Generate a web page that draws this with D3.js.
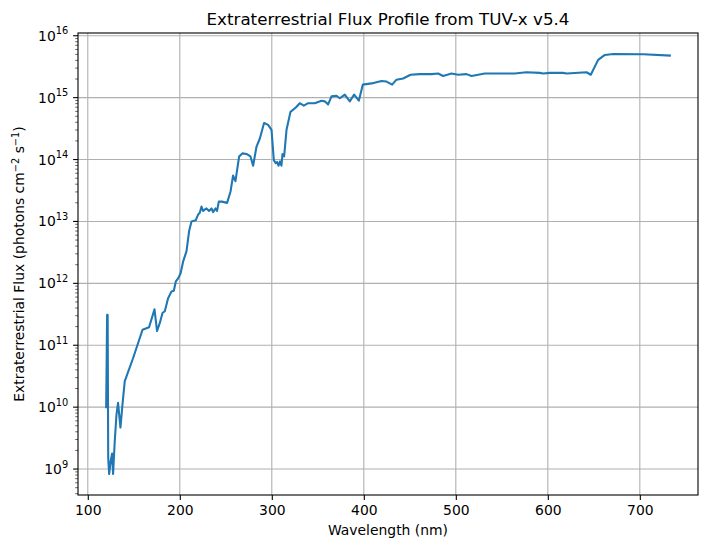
<!DOCTYPE html>
<html><head><meta charset="utf-8">
<script src="https://cdn.jsdelivr.net/npm/d3@7"></script>
<style>body{margin:0;background:#fff}svg{display:block}text{font-family:"DejaVu Sans",sans-serif;fill:#000}</style>
</head><body>
<svg id="c" width="708" height="547"></svg>
<script>
const wavelength = [120.0,121.0,121.6,122.2,123.2,125.0,126.4,127.5,129.3,131.2,132.9,135.5,137.7,140.2,149.2,159.5,166.6,172.5,175.3,178.3,181.2,183.7,187.3,191.0,193.5,195.7,198.2,200.8,203.6,207.3,210.1,212.7,215.2,217.4,219.9,221.7,223.6,225.3,229.0,231.8,234.5,236.2,238.8,240.5,242.4,245.7,251.4,255.1,257.9,260.5,264.5,268.2,272.5,276.8,279.7,283.4,287.0,291.6,296.0,299.7,302.2,304.3,305.8,307.3,309.0,310.5,311.6,313.4,316.0,320.3,326.1,330.4,334.8,339.5,346.7,354.0,357.6,361.2,364.9,370.3,373.9,379.3,384.8,389.5,394.6,398.9,408.4,419.2,424.7,430.8,435.5,442.7,450.8,460.9,473.6,480.8,486.2,495.3,502.5,511.6,517.1,531.5,547.8,564.1,576.8,591.3,594.9,602.2,616.3,620.7,642.1,646.7,654.7,662.0,671.0,703.6,732.6];
const logFlux = [10.0,11.49,11.49,9.18,8.92,9.14,9.25,8.92,9.45,9.88,10.07,9.67,10.04,10.42,10.79,11.25,11.29,11.58,11.23,11.36,11.52,11.55,11.76,11.87,11.88,12.03,12.08,12.16,12.35,12.52,12.84,13.0,13.01,13.02,13.11,13.14,13.24,13.17,13.21,13.17,13.21,13.15,13.21,13.17,13.32,13.32,13.30,13.48,13.74,13.65,14.05,14.10,14.09,14.05,13.90,14.21,14.34,14.59,14.56,14.48,13.99,13.94,13.96,13.90,13.97,13.90,14.09,14.05,14.48,14.77,14.84,14.91,14.87,14.91,14.91,14.95,14.94,14.89,15.02,15.03,14.99,15.05,14.94,15.05,14.95,15.21,15.23,15.27,15.26,15.21,15.29,15.31,15.37,15.38,15.38,15.39,15.35,15.39,15.37,15.38,15.35,15.39,15.39,15.39,15.41,15.40,15.39,15.40,15.40,15.39,15.41,15.37,15.61,15.69,15.705,15.70,15.68];
const flux = logFlux.map(v => Math.pow(10, v));
const xTicks = [100,200,300,400,500,600,700];
const yTickExps = [9,10,11,12,13,14,15,16];
const title = "Extraterrestrial Flux Profile from TUV-x v5.4";
const xLabel = "Wavelength (nm)";

const svg = d3.select("#c");
const L = 78, R = 698, T = 33, B = 495;
const xmin = d3.min(wavelength), xmax = d3.max(wavelength), xr = xmax - xmin;
const x = d3.scaleLinear().domain([xmin - 0.05*xr, xmax + 0.05*xr]).range([L, R]);
const lmin = Math.log10(d3.min(flux)), lmax = Math.log10(d3.max(flux)), lr = lmax - lmin;
const y = d3.scaleLog().domain([Math.pow(10, lmin - 0.05*lr), Math.pow(10, lmax + 0.05*lr)]).range([B, T]);

const g = svg.append("g");
// grid
g.selectAll(".gx").data(xTicks).enter().append("line")
  .attr("x1", d => x(d)).attr("x2", d => x(d)).attr("y1", T).attr("y2", B)
  .attr("stroke", "#b0b0b0").attr("stroke-width", 1.1);
g.selectAll(".gy").data(yTickExps).enter().append("line")
  .attr("y1", d => y(Math.pow(10, d))).attr("y2", d => y(Math.pow(10, d))).attr("x1", L).attr("x2", R)
  .attr("stroke", "#b0b0b0").attr("stroke-width", 1.1);

// line
const clip = svg.append("clipPath").attr("id", "cp").append("rect").attr("x", L).attr("y", T).attr("width", R-L).attr("height", B-T);
g.append("path").datum(wavelength.map((w, i) => [w, flux[i]]))
  .attr("clip-path", "url(#cp)")
  .attr("d", d3.line().x(d => x(d[0])).y(d => y(d[1])))
  .attr("fill", "none").attr("stroke", "#1f77b4").attr("stroke-width", 2.08)
  .attr("stroke-linejoin", "round").attr("stroke-linecap", "square");

// frame
g.append("rect").attr("x", L).attr("y", T).attr("width", R-L).attr("height", B-T)
  .attr("fill", "none").attr("stroke", "#000").attr("stroke-width", 1.1);

// x axis ticks
const xa = g.append("g").attr("transform", `translate(0,${B})`)
  .call(d3.axisBottom(x).tickValues(xTicks).tickSize(4.9).tickPadding(4.9).tickFormat(d3.format("d")));
xa.select(".domain").remove();
xa.selectAll("line").attr("stroke-width", 1.1);
xa.selectAll("text").attr("font-size", 13.9).attr("font-family", "DejaVu Sans");

// y axis major ticks
const ya = g.append("g").attr("transform", `translate(${L},0)`);
yTickExps.forEach(e => {
  const yy = y(Math.pow(10, e));
  ya.append("line").attr("x1", -4.9).attr("x2", 0).attr("y1", yy).attr("y2", yy).attr("stroke", "#000").attr("stroke-width", 1.1);
  const t = ya.append("text").attr("x", -9.8).attr("y", yy + 5).attr("text-anchor", "end").attr("font-size", 13.9);
  t.append("tspan").text("10");
  t.append("tspan").attr("font-size", 9.8).attr("dy", -6.5).text(e);
});
// minor ticks
const dom = y.domain();
for (let e = 8; e <= 16; e++) {
  for (let m = 2; m <= 9; m++) {
    const v = m * Math.pow(10, e);
    if (v >= dom[0] && v <= dom[1]) {
      const yy = y(v);
      ya.append("line").attr("x1", -2.8).attr("x2", 0).attr("y1", yy).attr("y2", yy).attr("stroke", "#000").attr("stroke-width", 0.6);
    }
  }
}

// title
svg.append("text").attr("x", (L+R)/2).attr("y", 25).attr("text-anchor", "middle").attr("font-size", 16.7).text(title);
// x label
svg.append("text").attr("x", (L+R)/2).attr("y", 535).attr("text-anchor", "middle").attr("font-size", 13.9).text(xLabel);
// y label
const yl = svg.append("text").attr("transform", `translate(24,${(T+B)/2}) rotate(-90)`).attr("text-anchor", "middle").attr("font-size", 13.9);
yl.append("tspan").text("Extraterrestrial Flux (photons cm");
yl.append("tspan").attr("font-size", 9.8).attr("dy", -5.5).text("\u22122");
yl.append("tspan").attr("dy", 5.5).text(" s");
yl.append("tspan").attr("font-size", 9.8).attr("dy", -5.5).text("\u22121");
yl.append("tspan").attr("dy", 5.5).text(")");
</script>
</body></html>
